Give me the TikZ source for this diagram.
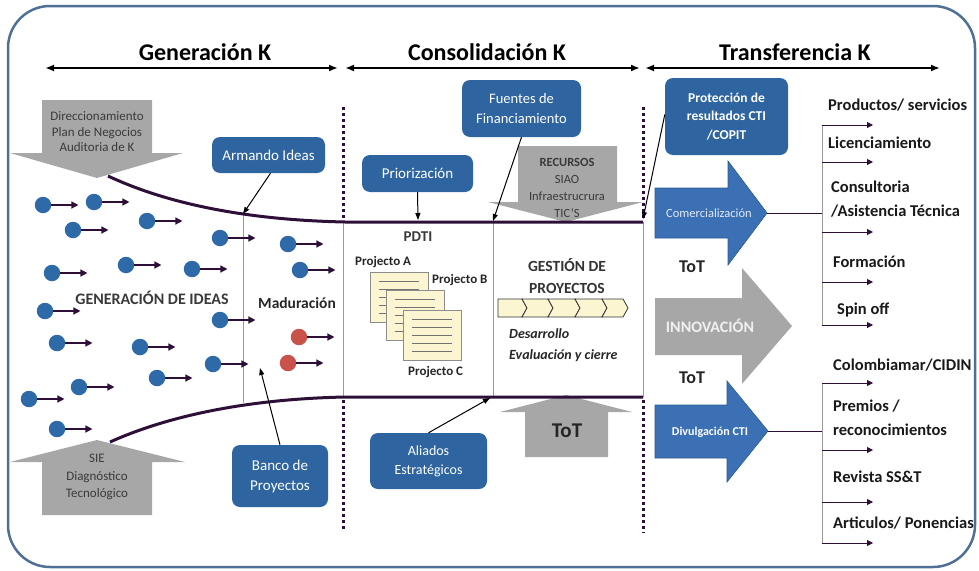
\documentclass[tikz,border=0pt]{standalone}
\usepackage{fontspec}
\setmainfont{Carlito}
\usetikzlibrary{arrows.meta}
\definecolor{frameblue}{HTML}{4E7096}
\definecolor{boxblue}{HTML}{2E65A0}
\definecolor{arrblue}{HTML}{3B70B5}
\definecolor{arredge}{HTML}{2A5A90}
\definecolor{blockgray}{HTML}{A7A7A7}
\definecolor{funnel}{HTML}{2D0F38}
\definecolor{ideablue}{HTML}{2F6AA8}
\definecolor{ideared}{HTML}{C9524A}
\definecolor{sepgray}{HTML}{9A9A9A}
\definecolor{docfill}{HTML}{FBF5D2}
\definecolor{inkgray}{HTML}{3A3A3A}
\begin{document}
\begin{tikzpicture}[x=1pt,y=-1pt,
  title/.style={font=\fontsize{24}{28}\selectfont\bfseries, text=black},
  phase/.style={line width=1.8pt, {Latex[length=9pt,width=7pt]}-{Latex[length=9pt,width=7pt]}},
  dotline/.style={draw=funnel, line width=3pt, dash pattern=on 3pt off 3pt},
  sep/.style={draw=sepgray, line width=0.9pt},
  funnelline/.style={draw=funnel, line width=3pt},
  graytext/.style={text=inkgray, align=center, font=\fontsize{13}{15.5}\selectfont, inner sep=0pt},
  bluebox/.style={fill=boxblue, rounded corners=8pt, text=white, align=center, inner sep=0pt},
  link/.style={draw=black, line width=1pt, -{Triangle[length=7pt,width=5pt]}},
  idea/.style={circle, fill=ideablue, minimum size=16.5pt, inner sep=0pt},
  ripe/.style={idea, fill=ideared},
  ideaarrow/.style={line width=1.3pt, draw=funnel, -{Triangle[length=7pt,width=7pt]}},
  branch/.style={line width=1pt, draw=funnel, -{Triangle[length=6pt,width=6pt]}},
  trunk/.style={line width=1pt, draw=sepgray},
  outlabel/.style={anchor=west, font=\fontsize{16.5}{24}\selectfont\bfseries, align=left, inner sep=0pt, text=black!90},
  doc/.style={draw=black!45, fill=docfill, minimum width=58pt, minimum height=50pt, inner sep=0pt},
  docline/.style={draw=black!55, line width=0.8pt},
  chev/.style={draw=black!80, fill=docfill, line width=0.8pt},
  proj/.style={anchor=west, font=\fontsize{13}{15}\selectfont\bfseries, text=black!85, inner sep=0pt}]
\useasboundingbox (0,0) rectangle (979,570);

% outer frame
\draw[frameblue, line width=2.5pt, rounded corners=42pt] (8,6) rectangle (975,567);

% phase headers
\node[title] (tgen) at (205,52) {Generación K};
\node[title] (tcon) at (487,52) {Consolidación K};
\node[title] (ttra) at (795,52) {Transferencia K};
\coordinate (h1a) at (45,68);  \coordinate (h1b) at (338,68);
\coordinate (h2a) at (345,68); \coordinate (h2b) at (640,68);
\coordinate (h3a) at (645,68); \coordinate (h3b) at (940,68);
\draw[phase] (h1a) -- (h1b);
\draw[phase] (h2a) -- (h2b);
\draw[phase] (h3a) -- (h3b);

% phase borders (dotted)
\draw[dotline] (343,107) -- (343,220);
\draw[dotline] (343,400) -- (343,530);
\draw[dotline] (643,107) -- (643,220);
\draw[dotline] (643,400) -- (643,533);

% gray input arrows
\fill[blockgray] (42,100) -- (152,100) -- (152,153) -- (183,153) -- (97,178) -- (10,153) -- (42,153) -- cycle;
\node[graytext] (dir) at (97,132) {Direccionamiento\\Plan de Negocios\\Auditoria de K};
\fill[blockgray] (97,440) -- (185,462) -- (152,462) -- (152,515) -- (42,515) -- (42,462) -- (10,462) -- cycle;
\node[graytext, font=\fontsize{13}{17.5}\selectfont] (sie) at (97,477) {SIE\\Diagnóstico\\Tecnológico};
\fill[blockgray] (518,146) -- (617,146) -- (617,202) -- (643,202) -- (566,222) -- (488,202) -- (518,202) -- cycle;
\node[graytext, font=\fontsize{12.5}{17}\selectfont] (rec) at (567,188) {\textbf{RECURSOS}\\SIAO\\Infraestrucrura\\TIC'S};
\fill[blockgray] (566,395) -- (632,412) -- (608,412) -- (608,457) -- (525,457) -- (525,412) -- (500,412) -- cycle;
\node[font=\fontsize{21}{24}\selectfont\bfseries, text=black!85] (tot3) at (567,431) {ToT};

% separators inside the funnel
\draw[sep] (243,214) -- (243,403);
\draw[sep] (343,222) -- (343,397);
\draw[sep] (493,222) -- (493,397);
\draw[sep] (643,222) -- (643,397);

% funnel
\coordinate (ft0) at (108,176); \coordinate (ft1) at (345,222); \coordinate (ft2) at (643,222);
\coordinate (fb0) at (110,442); \coordinate (fb1) at (345,397); \coordinate (fb2) at (643,397);
\draw[funnelline] (ft0) .. controls (170,205) and (250,220) .. (ft1) -- (ft2);
\draw[funnelline] (fb0) .. controls (170,415) and (250,399) .. (fb1) -- (fb2);

% ideas
\foreach \i/\x/\y in {1/43/205, 2/94/202, 3/73/230, 4/147/221, 5/220/238, 6/52/273,
  7/126/265, 8/192/269, 9/45/311, 10/220/320, 11/57/343, 12/140/347, 13/213/364,
  14/157/378, 15/79/387, 16/29/399, 17/57/429, 18/288/244, 19/300/270} {
  \node[idea] (g\i) at (\x,\y) {};
  \draw[ideaarrow] (g\i.east) -- ++(27,0);
}
\foreach \i/\x/\y in {1/299/337, 2/288/363} {
  \node[ripe] (r\i) at (\x,\y) {};
  \draw[ideaarrow] (r\i.east) -- ++(27,0);
}
\node[font=\fontsize{16}{18}\selectfont\bfseries, text=inkgray] (gen) at (152,298) {GENERACIÓN DE IDEAS};
\node[font=\fontsize{15.5}{18}\selectfont\bfseries, text=black!85] (mad) at (297,303) {Maduración};

% PDTI
\node[font=\fontsize{15}{18}\selectfont\bfseries, text=inkgray] (pdti) at (418,237) {PDTI};
\node[doc] (docA) at (399,297) {};
\foreach \k in {10,18,26,34,42} \draw[docline] ([shift={(9,\k)}]docA.north west) -- ([shift={(-9,\k)}]docA.north east);
\node[doc] (docB) at (415,315) {};
\foreach \k in {10,18,26,34,42} \draw[docline] ([shift={(9,\k)}]docB.north west) -- ([shift={(-9,\k)}]docB.north east);
\node[doc] (docC) at (432,335) {};
\foreach \k in {10,18,26,34,42} \draw[docline] ([shift={(9,\k)}]docC.north west) -- ([shift={(-9,\k)}]docC.north east);
\node[proj] (pa) at (355,262) {Projecto A};
\node[proj] (pb) at (432,280) {Projecto B};
\node[proj] (pc) at (408,372) {Projecto C};

% project management
\node[font=\fontsize{15.5}{22}\selectfont\bfseries, text=black!80, align=center] (gest) at (567,276) {GESTIÓN DE\\PROYECTOS};
\draw[chev] (498,299) -- (522,299) -- (527,308) -- (522,317) -- (498,317) -- cycle;
\foreach \a/\b in {522/548, 548/575, 575/602, 602/623}
  \draw[chev] (\a,299) -- (\b,299) -- (\b+5,308) -- (\b,317) -- (\a,317) -- (\a+5,308) -- cycle;
\node[anchor=west, font=\fontsize{14}{21}\selectfont\bfseries\itshape, text=black!85, align=left, inner sep=0pt] (fases) at (509,345) {Desarrollo\\Evaluación y cierre};

% blue boxes
\node[bluebox, minimum width=113pt, minimum height=36pt, font=\fontsize{15}{17}\selectfont] (arm) at (268.5,155) {Armando Ideas};
\node[bluebox, minimum width=119pt, minimum height=57pt, font=\fontsize{14.5}{20}\selectfont] (fue) at (521.5,108.5) {Fuentes de\\Financiamiento};
\node[bluebox, minimum width=111pt, minimum height=37pt, font=\fontsize{15}{17}\selectfont] (pri) at (417.5,173.5) {Priorización};
\node[bluebox, minimum width=123pt, minimum height=77pt, font=\fontsize{13.5}{18.5}\selectfont\bfseries] (pro) at (726.5,116.5) {Protección de\\resultados CTI\\/COPIT};
\node[bluebox, minimum width=96pt, minimum height=62pt, font=\fontsize{15}{20}\selectfont] (ban) at (280,476) {Banco de\\Proyectos};
\node[bluebox, minimum width=117pt, minimum height=56pt, font=\fontsize{14}{19}\selectfont] (ali) at (428.5,461) {Aliados\\Estratégicos};

% box links
\coordinate (armT) at (243,214);
\coordinate (fueT) at (493,221);
\coordinate (priT) at (418,220);
\coordinate (proT) at (643,219);
\coordinate (banT) at (260,368);
\coordinate (aliT) at (490,398);
\draw[link] ([xshift=2pt]arm.south) -- (armT);
\draw[link] (fue.south) -- (fueT);
\draw[link] (pri.south) -- (priT);
\draw[link] ([yshift=2pt]pro.west) -- (proT);
\draw[link] (ban.north) -- (banT);
\draw[link] (ali.north) -- (aliT);

% transfer arrows
\filldraw[fill=arrblue, draw=arredge, line width=0.6pt] (655,188) -- (728,188) -- (728,161) -- (767,213) -- (728,265) -- (728,238) -- (655,238) -- cycle;
\node[font=\fontsize{12.5}{15}\selectfont, text=white!85!arrblue] (com) at (709,213) {Comercialización};
\fill[blockgray] (655,298) -- (742,298) -- (742,268) -- (792,326) -- (742,384) -- (742,355) -- (655,355) -- cycle;
\node[font=\fontsize{16}{18}\selectfont\bfseries, text=white!94!black] (inn) at (710,326) {INNOVACIÓN};
\filldraw[fill=arrblue, draw=arredge, line width=0.6pt] (655,405) -- (727,405) -- (727,381) -- (768,431) -- (727,482) -- (727,458) -- (655,458) -- cycle;
\node[font=\fontsize{12}{15}\selectfont\bfseries, text=white] (div) at (710,432) {Divulgación CTI};
\node[font=\fontsize{18}{20}\selectfont\bfseries, text=black!85] (tot1) at (692,267) {ToT};
\node[font=\fontsize{18}{20}\selectfont\bfseries, text=black!85] (tot2) at (692,378) {ToT};

% commercial outcomes
\coordinate (comTip) at (767,213); \coordinate (comJ) at (822,213);
\draw[funnel, line width=1pt] (comTip) -- (comJ);
\draw[trunk] (822,125) -- (822,325);
\foreach \y in {125,162,232,282,325} \draw[branch] (822,\y) -- (873,\y);
\node[outlabel] (l1) at (828,105) {Productos/ servicios};
\node[outlabel] (l2) at (828,143) {Licenciamiento};
\node[outlabel] (l3) at (831,199) {Consultoria\\/Asistencia Técnica};
\node[outlabel] (l4) at (833,262) {Formación};
\node[outlabel] (l5) at (837,310) {Spin off};

% dissemination outcomes
\coordinate (divTip) at (768,431); \coordinate (divJ) at (822,431);
\draw[funnel, line width=1pt] (divTip) -- (divJ);
\draw[trunk] (822,383) -- (822,543);
\foreach \y in {383,450,502,543} \draw[branch] (822,\y) -- (873,\y);
\node[outlabel] (l6) at (833,365) {Colombiamar/CIDIN};
\node[outlabel] (l7) at (833,418) {Premios /\\reconocimientos};
\node[outlabel] (l8) at (833,477) {Revista SS\&T};
\node[outlabel] (l9) at (833,523) {Articulos/ Ponencias};
\end{tikzpicture}
\end{document}
